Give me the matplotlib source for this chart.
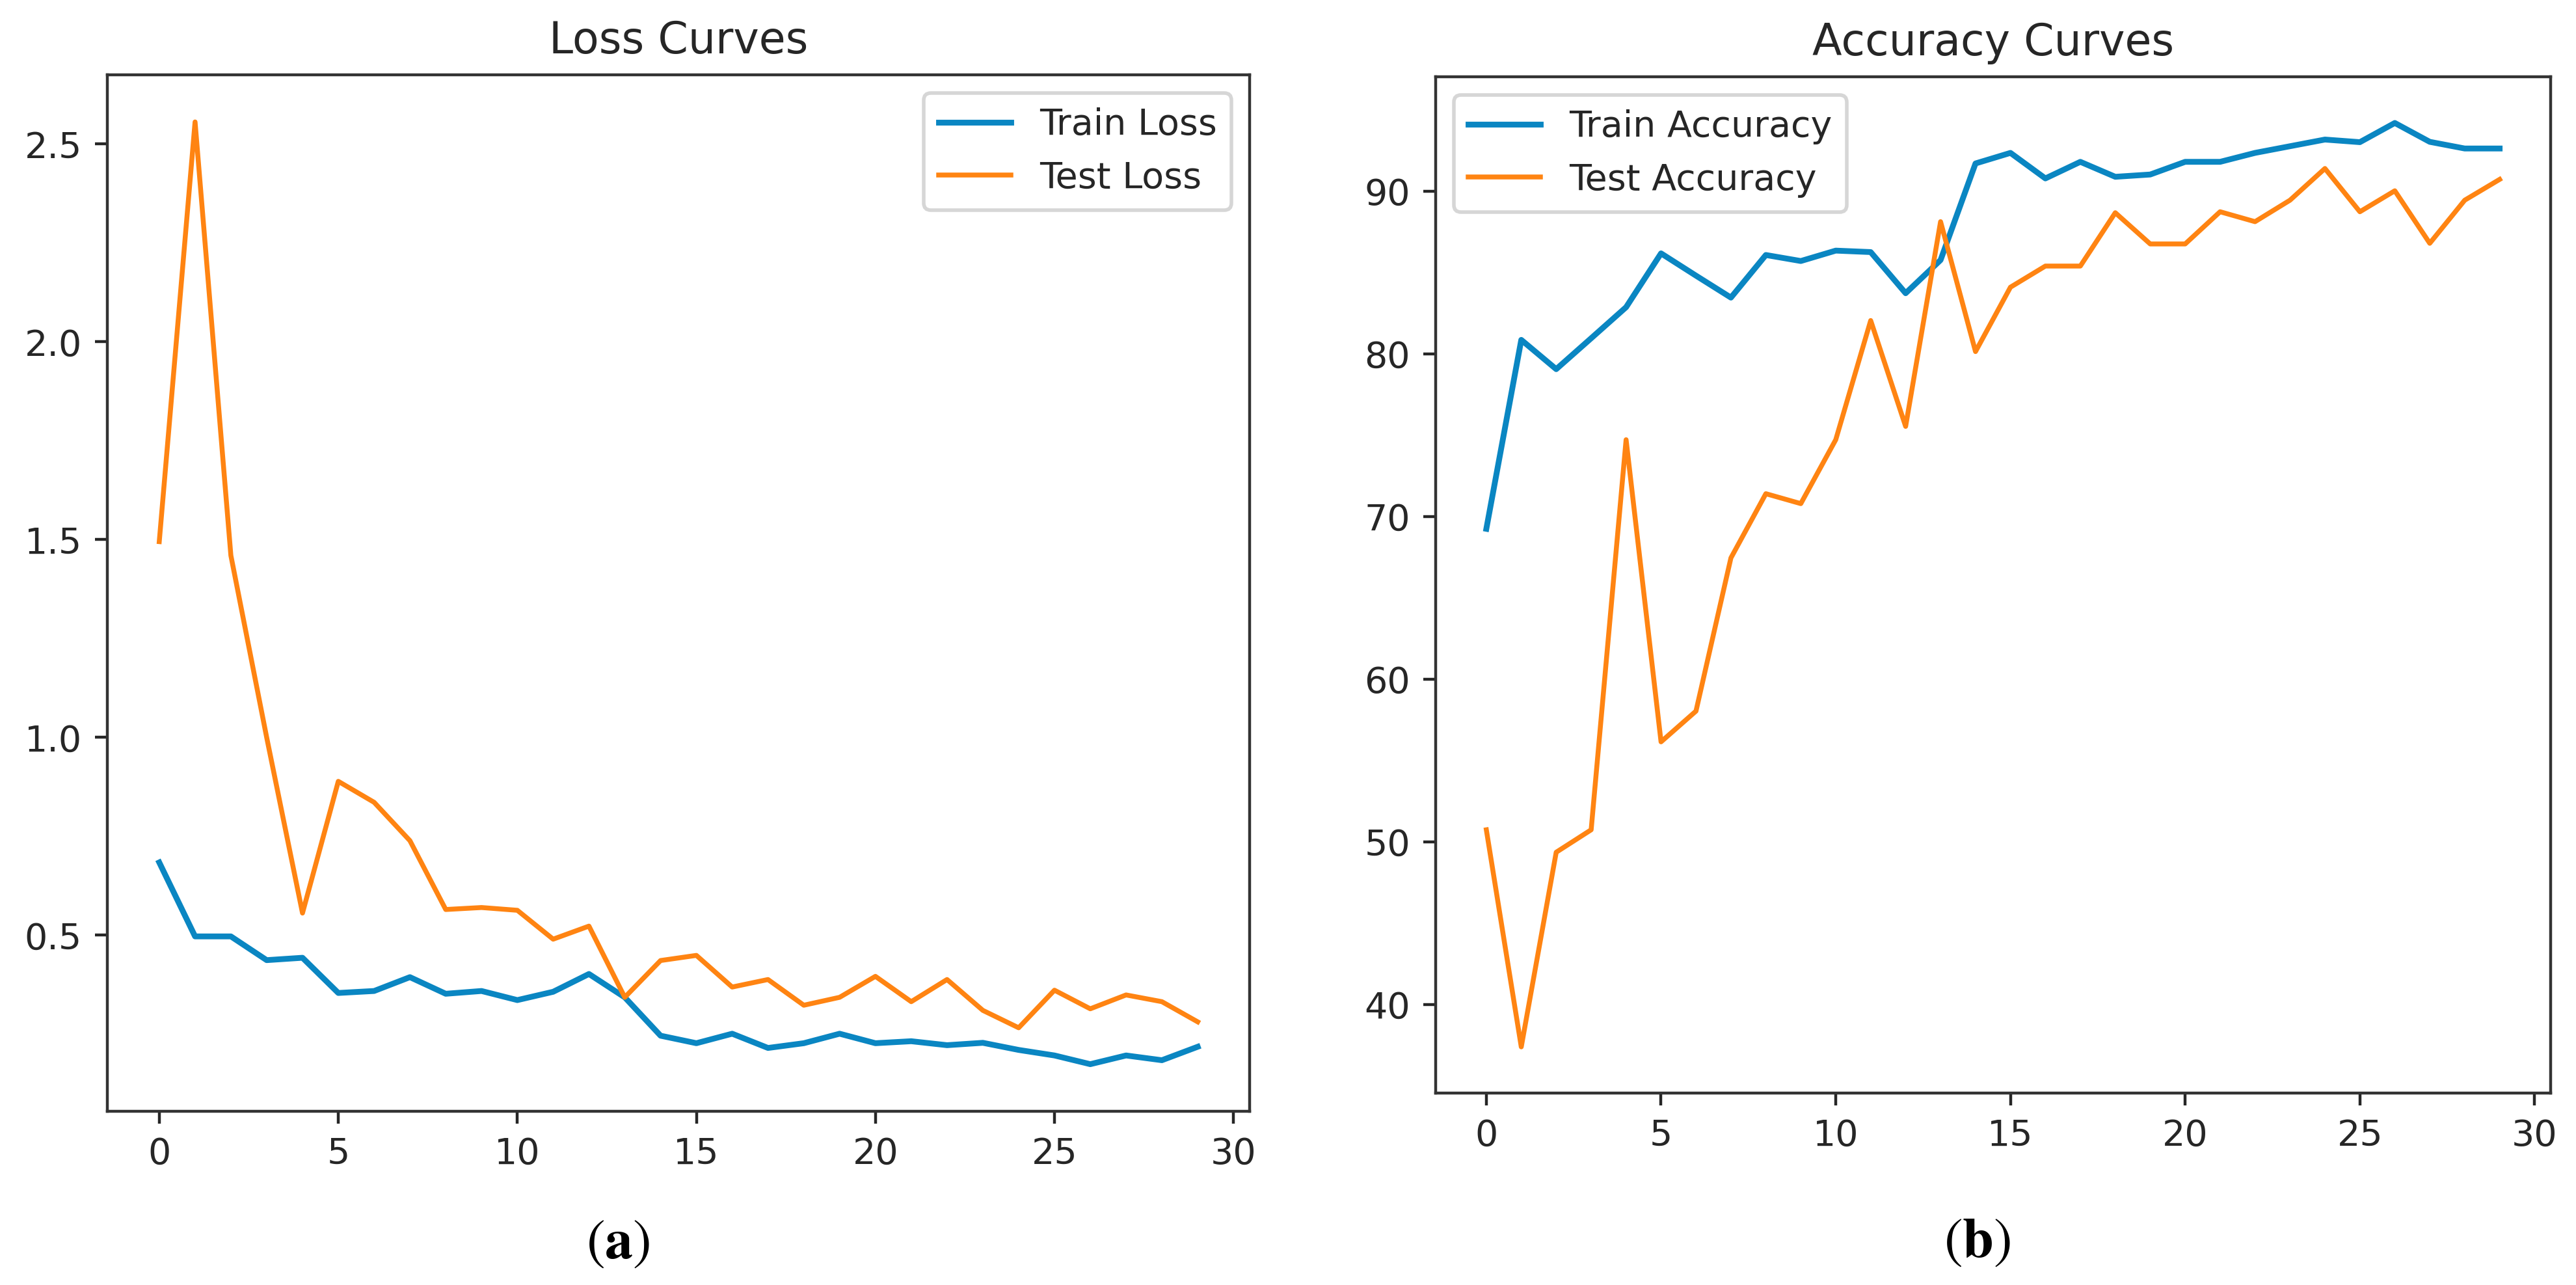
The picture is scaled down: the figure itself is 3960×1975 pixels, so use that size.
import matplotlib
matplotlib.use("Agg")
import matplotlib.pyplot as plt

epochs = list(range(30))
train_loss = [0.684, 0.497, 0.497, 0.437, 0.443, 0.354, 0.359, 0.394, 0.352, 0.359,
              0.336, 0.357, 0.402, 0.343, 0.246, 0.227, 0.251, 0.215, 0.227, 0.251,
              0.227, 0.232, 0.222, 0.228, 0.210, 0.196, 0.174, 0.196, 0.184, 0.218]
test_loss = [1.495, 2.556, 1.460, 1.000, 0.556, 0.889, 0.836, 0.739, 0.565, 0.570,
             0.563, 0.490, 0.523, 0.343, 0.436, 0.449, 0.369, 0.388, 0.323, 0.343,
             0.396, 0.332, 0.388, 0.310, 0.266, 0.361, 0.314, 0.349, 0.332, 0.281]
train_acc = [69.24, 80.86, 79.06, 80.96, 82.87, 86.18, 84.81, 83.46, 86.08, 85.71,
             86.35, 86.26, 83.73, 85.77, 91.71, 92.36, 90.79, 91.81, 90.89, 91.03,
             91.81, 91.81, 92.36, 92.77, 93.18, 93.02, 94.20, 93.04, 92.63, 92.63]
test_acc = [50.73, 37.38, 49.35, 50.73, 74.72, 56.14, 58.03, 67.45, 71.40, 70.79,
            74.72, 82.05, 75.54, 88.13, 80.14, 84.10, 85.40, 85.40, 88.68, 86.76,
            86.76, 88.74, 88.13, 89.45, 91.40, 88.74, 90.03, 86.80, 89.45, 90.73]

titles = ["Loss Curves", "Accuracy Curves"]
loss_labels = ["Train Loss", "Test Loss"]
acc_labels = ["Train Accuracy", "Test Accuracy"]
captions = ["a", "b"]

BLUE = "#0a86c2"
ORANGE = "#ff8412"
TXT = "#262626"

plt.rcParams["font.family"] = ["DejaVu Sans"]
plt.rcParams["mathtext.fontset"] = "stix"

W, H = 3960, 1975
dpi = 400
fig = plt.figure(figsize=(W / dpi, H / dpi), dpi=dpi)

ax1 = fig.add_axes([165 / W, (H - 1708) / H, 1756 / W, 1593 / H])
ax2 = fig.add_axes([2207 / W, (H - 1680) / H, 1713.5 / W, 1562 / H])

ax1.plot(epochs, train_loss, color=BLUE, lw=1.6, label=loss_labels[0])
ax1.plot(epochs, test_loss, color=ORANGE, lw=1.35, label=loss_labels[1])
ax1.set_yticks([0.5, 1.0, 1.5, 2.0, 2.5])
ax1.legend(loc="upper right", fontsize=10, labelcolor=TXT)

ax2.plot(epochs, train_acc, color=BLUE, lw=1.6, label=acc_labels[0])
ax2.plot(epochs, test_acc, color=ORANGE, lw=1.35, label=acc_labels[1])
ax2.set_yticks([40, 50, 60, 70, 80, 90])
ax2.legend(loc="upper left", fontsize=10, labelcolor=TXT)

for ax, t in zip([ax1, ax2], titles):
    ax.set_xticks([0, 5, 10, 15, 20, 25, 30])
    ax.set_title(t, fontsize=12, color=TXT)
    ax.tick_params(labelsize=10, colors=TXT)
    for s in ax.spines.values():
        s.set_color("#333333")

fig.text(950 / W, 1 - 1913 / H, r"($\mathbf{%s}$)" % captions[0], ha="center", va="center",
         fontsize=15.5, family="STIXGeneral", color="black")
fig.text(3040 / W, 1 - 1911 / H, r"($\mathbf{%s}$)" % captions[1], ha="center", va="center",
         fontsize=15.5, family="STIXGeneral", color="black")

fig.savefig("out.png", dpi=dpi)
